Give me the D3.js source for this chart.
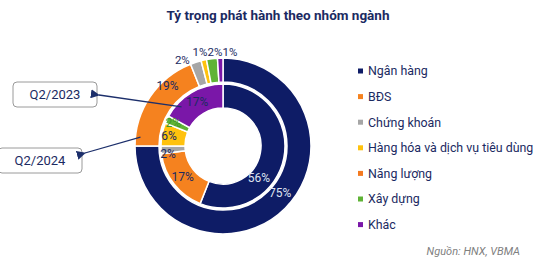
<!DOCTYPE html>
<html>
<head>
<meta charset="utf-8">
<script src="https://cdn.jsdelivr.net/npm/d3@7"></script>
<style>
  body { margin: 0; background: #fff; }
  svg { display: block; font-family: Roboto, "Noto Sans", sans-serif; }
</style>
</head>
<body>
<div id="chart"></div>
<script>
// sectors, clockwise from 12 o'clock
const sectors = ["Ngân hàng", "BĐS", "Chứng khoán", "Hàng hóa và dịch vụ tiêu dùng", "Năng lượng", "Xây dựng", "Khác"];
const colors = ["#0e1c66", "#f5821f", "#a6a6a6", "#ffc20e", "#f47a20", "#5fb336", "#7a17a8"];
// inner ring = Q2/2023, outer ring = Q2/2024 (%)
const q2_2023 = [56, 17, 2, 6, 0, 2, 17];
const q2_2024 = [75, 19, 2, 1, 0, 2, 1];

const width = 557, height = 261;
const cx = 223, cy = 146;
const navyText = "#1b2a62";

const svg = d3.select("#chart").append("svg")
  .attr("width", width)
  .attr("height", height);

// title
svg.append("text")
  .attr("x", 278).attr("y", 20)
  .attr("text-anchor", "middle")
  .attr("font-size", 13.5)
  .attr("font-weight", "bold")
  .attr("fill", navyText)
  .text("Tỷ trọng phát hành theo nhóm ngành");

let pie = d3.pie().sort(null).value(d => d.v);

function ring(values, r0, r1) {
  let data = values.map((v, i) => ({v: v, i: i}));
  let arcs = pie(data);
  let arc = d3.arc().innerRadius(r0).outerRadius(r1);
  let g = svg.append("g").attr("transform", `translate(${cx},${cy})`);
  g.selectAll("path")
    .data(arcs.filter(d => d.data.v > 0))
    .enter()
    .append("path")
    .attr("d", arc)
    .attr("fill", d => colors[d.data.i])
    .attr("stroke", "#fff")
    .attr("stroke-width", 1.5);
  return {arcs: arcs, arc: arc, g: g};
}

let inner = ring(q2_2023, 38, 62);
let outer = ring(q2_2024, 64, 88);

function polar(a, r) {
  return [Math.sin(a) * r, -Math.cos(a) * r];
}

// inner labels
inner.g.selectAll("text")
  .data(inner.arcs.filter(d => d.data.v > 0))
  .enter()
  .append("text")
  .attr("transform", d => {
    let a = (d.startAngle + d.endAngle) / 2;
    let p = d.data.i == 0 ? polar(2.3, 48) : polar(a, d.data.i == 1 || d.data.i == 6 ? 51 : 55);
    if (d.data.i == 2) p[1] += 4;
    return `translate(${p[0]},${p[1]})`;
  })
  .attr("text-anchor", "middle")
  .attr("dy", "0.35em")
  .attr("font-size", 12)
  .attr("fill", d => d.data.i == 0 ? "#dfe3f0" : (d.data.i == 5 ? "#3f9a2a" : navyText))
  .text(d => d.data.v + "%");

// outer labels: big ones inside the ring, thin ones above it, spread apart
const smallShift = {2: [-11, 5], 3: [-2, 0], 5: [4, 1], 6: [10, 2]};
outer.g.selectAll("text")
  .data(outer.arcs.filter(d => d.data.v > 0))
  .enter()
  .append("text")
  .attr("transform", d => {
    let a = (d.startAngle + d.endAngle) / 2;
    if (d.data.i == 0) { let p = polar(2.26, 74); return `translate(${p[0]},${p[1]})`; }
    if (d.data.i == 1) { let p = polar(5.54, 82); return `translate(${p[0]},${p[1]})`; }
    let p = polar(a, 96);
    let s = smallShift[d.data.i] || [0, 0];
    return `translate(${p[0] + s[0]},${p[1] + s[1]})`;
  })
  .attr("text-anchor", "middle")
  .attr("dy", "0.35em")
  .attr("font-size", d => d.data.i <= 1 ? 12 : 11.5)
  .attr("fill", d => d.data.i == 0 ? "#dfe3f0" : navyText)
  .text(d => d.data.v + "%");

// legend
let legend = svg.append("g").attr("transform", "translate(358,71)");
let rows = legend.selectAll("g")
  .data(sectors)
  .enter()
  .append("g")
  .attr("transform", (d, i) => `translate(0,${i * 25.6})`);
rows.append("rect")
  .attr("x", 0).attr("y", -2.5)
  .attr("width", 5).attr("height", 5)
  .attr("fill", (d, i) => colors[i]);
rows.append("text")
  .attr("x", 10)
  .attr("dy", "0.35em")
  .attr("font-size", 12.4)
  .attr("fill", navyText)
  .text(d => d);

// callouts
svg.append("defs").append("marker")
  .attr("id", "arrow")
  .attr("viewBox", "0 0 10 10")
  .attr("refX", 1).attr("refY", 5)
  .attr("markerWidth", 7).attr("markerHeight", 7)
  .attr("orient", "auto")
  .append("path")
  .attr("d", "M10,0 L0,5 L10,10 z")
  .attr("fill", "#1c2f6b");

function callout(label, bx, by, w, from, to) {
  svg.append("rect")
    .attr("x", bx).attr("y", by)
    .attr("width", w).attr("height", 25)
    .attr("rx", 4)
    .attr("fill", "#fff")
    .attr("stroke", "#9a9a9a")
    .attr("stroke-width", 1);
  svg.append("text")
    .attr("x", bx + w / 2).attr("y", by + 12.5)
    .attr("text-anchor", "middle")
    .attr("dy", "0.35em")
    .attr("font-size", 13)
    .attr("fill", navyText)
    .text(label);
  svg.append("line")
    .attr("x1", from[0]).attr("y1", from[1])
    .attr("x2", to[0]).attr("y2", to[1])
    .attr("stroke", "#1c2f6b")
    .attr("stroke-width", 1.3)
    .attr("marker-end", "url(#arrow)");
}

// start points taken on the rings
let pIn = inner.arc.centroid(inner.arcs[6]);
let pOut = polar(4.82, 83);
callout("Q2/2023", 13, 82, 84, [cx + pIn[0] - 16, cy + pIn[1] + 4], [99, 95]);
callout("Q2/2024", -2, 148, 84, [cx + pOut[0], cy + pOut[1]], [85, 153]);

// source
svg.append("text")
  .attr("x", 520).attr("y", 255)
  .attr("text-anchor", "end")
  .attr("font-size", 11)
  .attr("font-style", "italic")
  .attr("fill", "#808080")
  .text("Nguồn: HNX, VBMA");
</script>
</body>
</html>
